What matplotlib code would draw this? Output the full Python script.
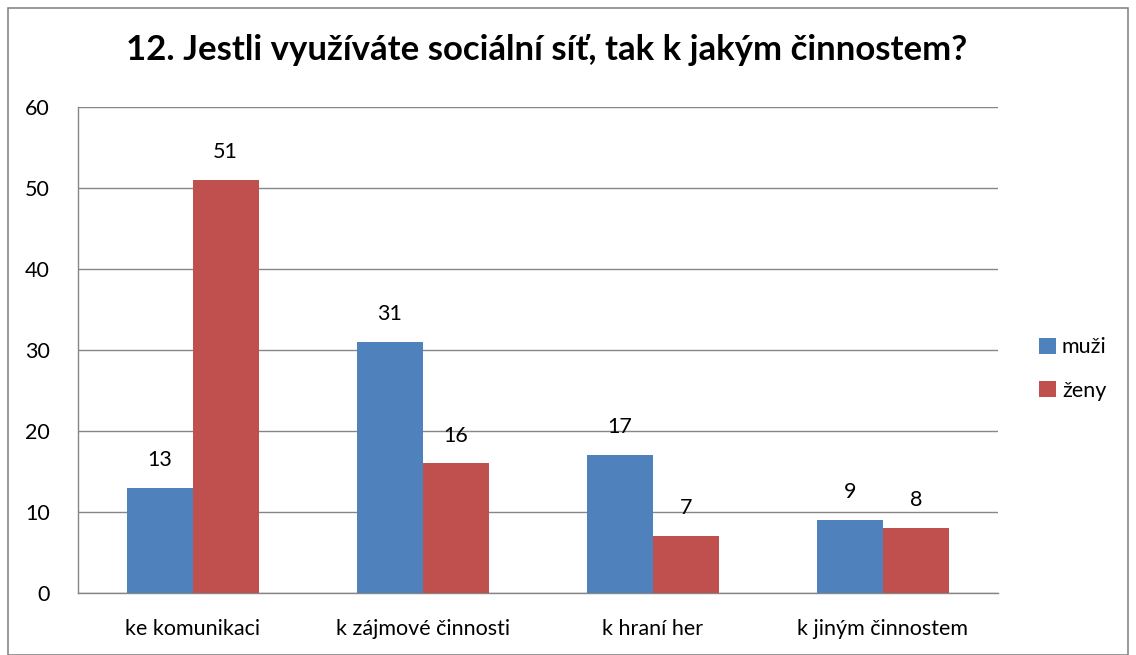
import matplotlib.pyplot as plt
import numpy as np
from matplotlib.patches import Rectangle

# data
kategorie = ["ke komunikaci", "k zájmové činnosti", "k hraní her", "k jiným činnostem"]
muzi = [13, 31, 17, 9]
zeny = [51, 16, 7, 8]
nazev = "12. Jestli využíváte sociální síť, tak k jakým činnostem?"

plt.rcParams['font.family'] = ['Lato', 'DejaVu Sans']

W, H = 1136, 655
fig = plt.figure(figsize=(W / 100, H / 100), dpi=100)
ax = fig.add_axes([77.5 / W, 1 - 593 / H, (998 - 77.5) / W, (593 - 107) / H])

x = np.arange(len(kategorie))
w = 0.287
b1 = ax.bar(x - w / 2, muzi, w, color="#4F81BD", label="muži", zorder=3)
b2 = ax.bar(x + w / 2, zeny, w, color="#C0504D", label="ženy", zorder=3)

for bars in (b1, b2):
    for r in bars:
        ax.text(r.get_x() + r.get_width() / 2, r.get_height() + 2.2, str(int(r.get_height())),
                ha="center", va="bottom", fontsize=15.5)

ax.set_xlim(-0.5, len(kategorie) - 0.5)
ax.set_ylim(0, 60)
ax.set_yticks(range(0, 61, 10))
ax.set_xticks(x)
ax.set_xticklabels(kategorie, fontsize=15.5)
ax.tick_params(axis="y", labelsize=15.5, length=0, pad=20)
ax.tick_params(axis="x", length=0, pad=19)
ax.grid(axis="y", color="#868686", linewidth=1, zorder=0)
for s in ["top", "right"]:
    ax.spines[s].set_visible(False)
for s in ["left", "bottom"]:
    ax.spines[s].set_color("#868686")
    ax.spines[s].set_linewidth(1)

fig.text(547 / W, 1 - 50 / H, nazev, ha="center", va="center", fontsize=25, fontweight="bold")

fig.legend(loc="center left", bbox_to_anchor=(1020 / W, 1 - 369 / H), frameon=False,
           fontsize=15.5, handlelength=0.75, handleheight=0.75, handletextpad=0.3,
           labelspacing=1.1)

fig.patches.append(Rectangle((8 / W, 0), (1128 - 8) / W, 1 - 8 / H, transform=fig.transFigure,
                             fill=False, edgecolor="#868686", linewidth=1.2))

fig.savefig("out.png", dpi=100)
